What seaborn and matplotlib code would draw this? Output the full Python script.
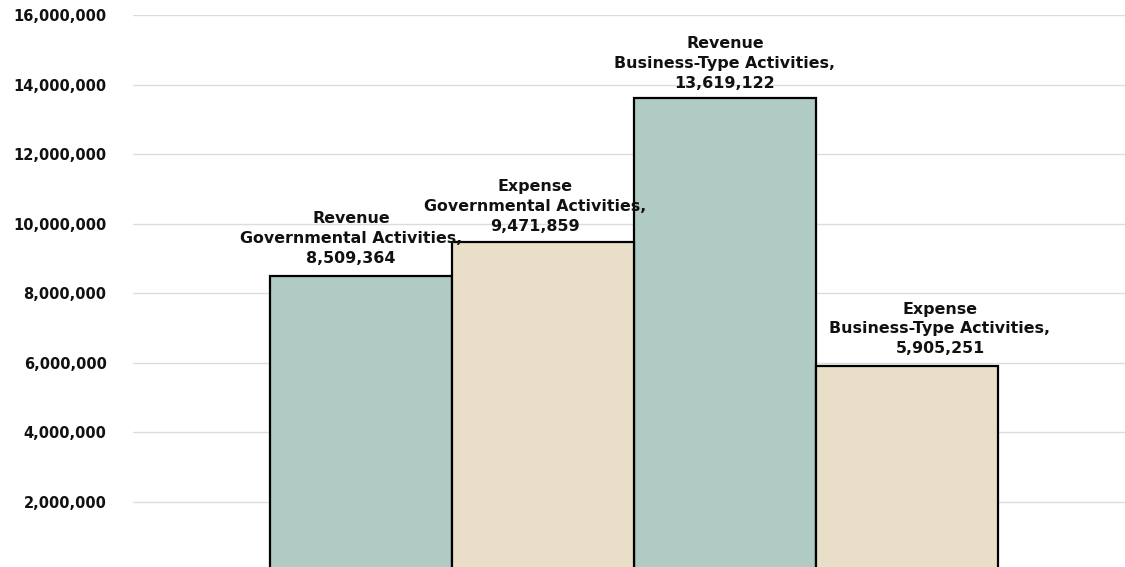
import matplotlib
matplotlib.use("Agg")
import matplotlib.pyplot as plt
import seaborn as sns
import pandas as pd
from matplotlib.ticker import FuncFormatter

# Net position components, in dollars
categories = [
    "Revenue\nGovernmental Activities",
    "Expense\nGovernmental Activities",
    "Revenue\nBusiness-Type Activities",
    "Expense\nBusiness-Type Activities",
]
kinds = ["Revenue", "Expense", "Revenue", "Expense"]
values = [8509364, 9471859, 13619122, 5905251]
y_ticks = [2000000, 4000000, 6000000, 8000000, 10000000, 12000000, 14000000, 16000000]

df = pd.DataFrame({"category": categories, "kind": kinds, "value": values})
palette = {"Revenue": "#B0CBC4", "Expense": "#E9DEC7"}

sns.set_theme(style="white")
plt.rcParams["font.family"] = ["DejaVu Sans"]

fig = plt.figure(figsize=(11.25, 5.67), dpi=100)
ax = fig.add_axes([133 / 1125, -4.5 / 567, 1 - 133 / 1125, (567 - 15 + 4.5) / 567])

sns.barplot(data=df, x="category", y="value", hue="kind", palette=palette,
            dodge=False, width=1.0, saturation=1, edgecolor="black",
            linewidth=1.6, legend=False, ax=ax, zorder=3)

ax.set_xlim(-1.253, 4.198)
ax.set_ylim(0, 16000000)
ax.set_yticks(y_ticks)
ax.yaxis.set_major_formatter(FuncFormatter(lambda v, _: f"{int(v):,}"))
ax.grid(axis="y", color="#DCDCDC", linewidth=1.0, zorder=0)
ax.grid(axis="x", visible=False)
for s in ax.spines.values():
    s.set_visible(False)
ax.tick_params(axis="y", length=0, pad=19, labelsize=10.5, labelcolor="#111111")
for t in ax.get_yticklabels():
    t.set_fontweight("bold")
ax.set_xticks([])
ax.set_xlabel("")
ax.set_ylabel("")

# Data labels: category name plus value, sitting above each bar
label_dx = [-10, -8, 0, 33]
label_dy = [10, 8, 7, 10]
for i, (cat, val) in enumerate(zip(categories, values)):
    ax.annotate(f"{cat},\n{val:,}", xy=(i, val), xytext=(label_dx[i], label_dy[i]),
                textcoords="offset pixels", ha="center", va="bottom",
                fontsize=11.4, fontweight="bold", linespacing=1.4,
                color="#111111", zorder=5)

fig.savefig("out.png", dpi=100)
